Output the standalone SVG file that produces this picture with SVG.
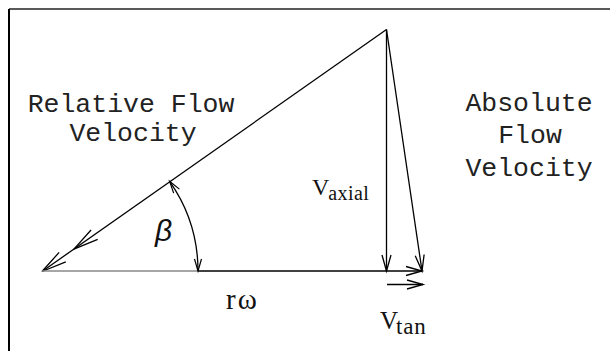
<svg xmlns="http://www.w3.org/2000/svg" width="610" height="351" viewBox="0 0 610 351">
<style>
.ln{stroke:#000;stroke-width:1.3;fill:none}
.lbl{font-family:"Liberation Mono","DejaVu Sans Mono",monospace;font-size:26.5px;fill:#222;text-anchor:middle}
.ser{font-family:"Liberation Serif","DejaVu Serif",serif;fill:#111}
</style>
<defs>
<marker id="ah" markerUnits="userSpaceOnUse" markerWidth="40" markerHeight="20" viewBox="-20 -10 40 20" refX="0" refY="0" orient="auto-start-reverse" overflow="visible">
<path d="M-16,-4.5 L0,0 L-16,4.5" fill="none" stroke="#000" stroke-width="1.3"/>
</marker>
<marker id="ah2" markerUnits="userSpaceOnUse" markerWidth="80" markerHeight="20" viewBox="-80 -10 80 20" refX="0" refY="0" orient="auto" overflow="visible">
<path d="M-25,-5.8 L0,0 L-25,5.8 M-64,-5.8 L-39,0 L-64,5.8" fill="none" stroke="#000" stroke-width="1.3"/>
</marker>
<marker id="ahs" markerUnits="userSpaceOnUse" markerWidth="30" markerHeight="20" viewBox="-15 -10 30 20" refX="0" refY="0" orient="auto-start-reverse" overflow="visible">
<path d="M-12,-3.5 L0,0 L-12,3.5" fill="none" stroke="#000" stroke-width="1.2"/>
</marker>
</defs>
<g id="frame">
<line x1="9" y1="9" x2="610" y2="9" stroke="#222" stroke-width="1.6"/>
<line x1="9" y1="9" x2="9" y2="351" stroke="#000" stroke-width="2"/>
</g>
<g id="connectors">
<line id="relative" class="ln" x1="386.5" y1="29.5" x2="42" y2="271.5" marker-end="url(#ah2)"/>
<line id="baseline-left" x1="42" y1="271" x2="198" y2="271" stroke="#888" stroke-width="1.3"/>
<line id="romega" class="ln" x1="198" y1="271" x2="422" y2="271" marker-end="url(#ah)"/>
<line id="vaxial" class="ln" x1="386.5" y1="29.5" x2="386.5" y2="271" marker-end="url(#ah)"/>
<line id="absolute" class="ln" x1="386.5" y1="29.5" x2="422" y2="271" marker-end="url(#ah)"/>
<line id="vtan" class="ln" x1="387" y1="284.5" x2="423" y2="284.5" marker-end="url(#ah)"/>
<path id="beta-arc" class="ln" d="M169.6,181.3 A156,156 0 0 1 198,271" marker-start="url(#ahs)" marker-end="url(#ahs)"/>
</g>
<g id="label-relative">
<text class="lbl" x="131" y="112">Relative Flow</text>
<text class="lbl" x="133" y="141">Velocity</text>
</g>
<g id="label-absolute">
<text class="lbl" x="529" y="111">Absolute</text>
<text class="lbl" x="530" y="143">Flow</text>
<text class="lbl" x="529" y="176">Velocity</text>
</g>
<g id="label-beta">
<text x="155" y="241" font-family="Liberation Sans, DejaVu Sans, sans-serif" font-style="italic" font-size="30" fill="#111">β</text>
</g>
<g id="label-vaxial">
<text class="ser" x="312" y="195" font-size="24">V<tspan font-size="20" dx="-1" dy="5" letter-spacing="0.4">axial</tspan></text>
</g>
<g id="label-romega">
<text class="ser" x="226" y="309" font-size="29" letter-spacing="2">rω</text>
</g>
<g id="label-vtan">
<text class="ser" x="380" y="329" font-size="25">V<tspan font-size="23" dx="-2" dy="5" letter-spacing="0.8">tan</tspan></text>
</g>
</svg>
